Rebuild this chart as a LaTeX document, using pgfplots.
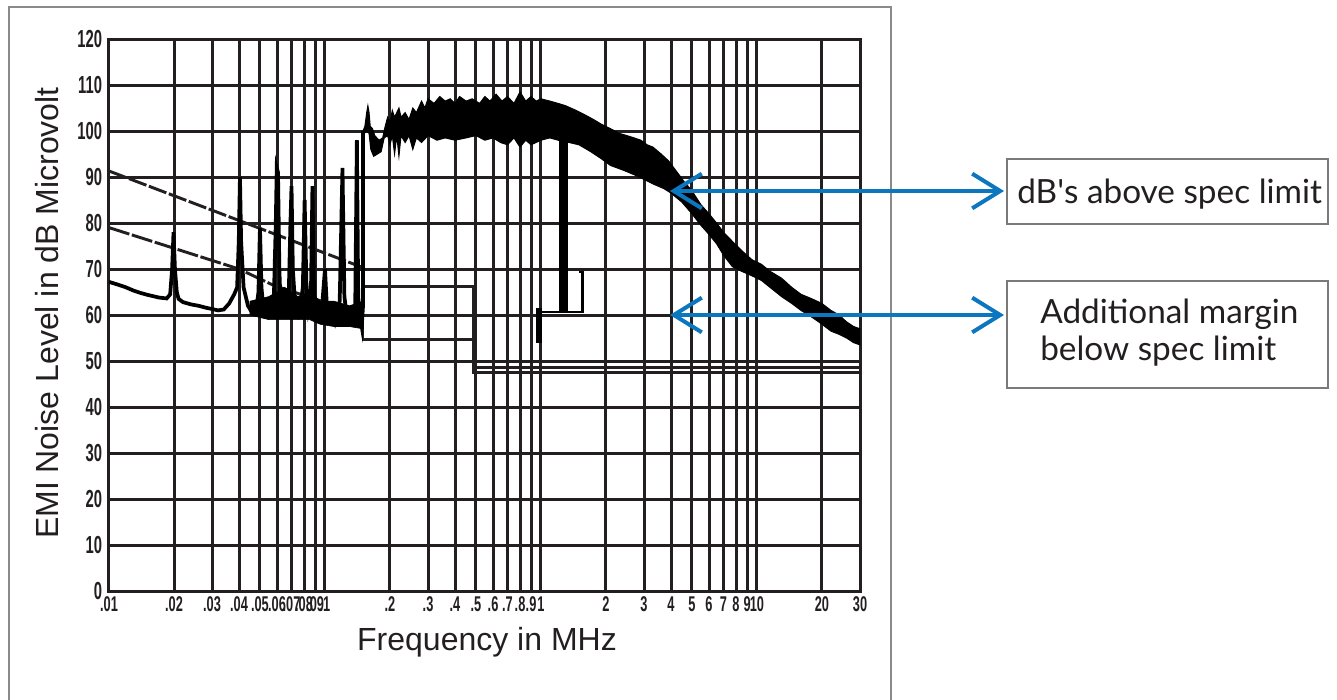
\documentclass[border=0pt]{standalone}
\usepackage{pgfplots}
\pgfplotsset{compat=1.18}
\usepackage{fontspec}
\setmainfont{Liberation Sans}
\newfontfamily\condfont[FakeStretch=0.6]{Liberation Sans}
\newfontfamily\latofont{Lato}
\usetikzlibrary{arrows.meta}
\definecolor{gridblack}{HTML}{231F20}
\definecolor{arrowblue}{HTML}{0C76BE}
\definecolor{framegray}{HTML}{8A8A8A}
\definecolor{boxgray}{HTML}{7A7A7A}
\definecolor{textdark}{HTML}{231F20}
\begin{document}
\begin{tikzpicture}
\begin{scope}[x=0.75pt,y=-0.75pt]
\path[use as bounding box] (0,0) rectangle (1337,699);
\draw[framegray, line width=0.9pt] (9,720) -- (9,7) -- (891,7) -- (891,720);
\end{scope}
\begin{axis}[
  at={(81.75pt,-443.25pt)}, anchor=south west,
  scale only axis, width=563.25pt, height=414pt,
  xmode=log, log basis x=10,
  xmin=0.01, xmax=30, ymin=0, ymax=120,
  xtick={0.01,0.02,0.03,0.04,0.05,0.06,0.07,0.08,0.09,0.1,0.2,0.3,0.4,0.5,0.6,0.7,0.8,0.9,1,2,3,4,5,6,7,8,9,10,20,30},
  xticklabels={.01,.02,.03,.04,.05,.06,.07,.08,.09,.1,.2,.3,.4,.5,.6,.7,.8,.9,1,2,3,4,5,6,7,8,9,10,20,30},
  ytick={0,10,20,30,40,50,60,70,80,90,100,110,120},
  yticklabels={0,10,20,30,40,50,60,70,80,90,100,110,120},
  minor xtick={},
  grid=major,
  major grid style={gridblack, line width=2.25pt},
  axis line style={gridblack, line width=2.25pt},
  major tick length=0pt, minor tick length=0pt,
  xticklabel style={font=\condfont\bfseries\fontsize{16}{18}\selectfont, text=gridblack, inner sep=1pt, yshift=-3pt},
  yticklabel style={font=\condfont\bfseries\fontsize{18.5}{20}\selectfont, text=gridblack, inner sep=1pt, xshift=-4pt},
]
% upper limit line
\addplot[gridblack, line width=2.2pt, mark=none, dash pattern=on 14pt off 2pt] coordinates {
(0.01,91.3)(0.15,70.3)};
\addplot[gridblack, line width=2.2pt, mark=none] coordinates {
(0.15,70.3)(0.15,66.1)(0.485,66.1)(0.485,48.5)(30,48.5)};
% lower limit line
\addplot[gridblack, line width=2.2pt, mark=none, dash pattern=on 16pt off 2pt] coordinates {
(0.01,79)(0.04,70)(0.0575,66.5)(0.15,60)};
\addplot[gridblack, line width=2.2pt, mark=none] coordinates {
(0.15,60)(0.15,54.6)(0.485,54.6)(0.485,47.5)(30,47.5)};
% low-frequency measurement trace
\addplot[black, line width=2.8pt, mark=none] coordinates {
(0.010,67.2)(0.011,66.6)(0.012,66)(0.013,65.3)(0.014,64.8)(0.015,64.4)(0.016,64.1)(0.017,63.8)(0.0185,63.6)(0.0192,64.5)(0.0196,70)(0.0199,78)(0.0202,70)(0.0206,65)(0.021,63.5)(0.022,62.8)(0.024,62.3)(0.026,62)(0.028,61.6)(0.030,61.3)(0.032,61)(0.034,61.2)(0.036,62.5)(0.038,64.5)(0.0392,66)(0.0399,76)(0.0404,90)(0.0409,76)(0.042,66)(0.044,62)(0.046,60.5)(0.048,61)(0.0492,65)(0.0500,79)(0.0508,66)(0.052,61)(0.054,60)(0.056,61.5)(0.058,64)(0.0592,80)(0.0598,92)(0.0606,91)(0.0615,70)(0.062,65)(0.064,62)(0.066,61)(0.068,65)(0.0692,80)(0.0700,88)(0.0710,70)(0.073,61)(0.075,60)(0.077,62)(0.079,66)(0.0805,85)(0.082,67)(0.084,61)(0.086,63)(0.0875,88)(0.089,65)(0.091,60)(0.094,59)(0.097,62)(0.100,70)(0.102,62)(0.105,59)(0.108,60)(0.111,58.5)(0.114,61)(0.117,63)(0.1205,92)(0.123,64)(0.126,60)(0.130,58.5)(0.134,60)(0.138,61)(0.1405,98)(0.1425,64)(0.145,60)(0.148,57.5)(0.150,62)(0.150,100)};
% noisy floor between 0.045 and 0.15 MHz
\addplot[black, fill=black, line width=0.5pt, mark=none] coordinates {
(0.045,63)(0.055,64)(0.065,66)(0.075,64)(0.085,65)(0.095,63)(0.11,63)(0.13,62)(0.15,63)
(0.15,57)(0.13,57.5)(0.11,57.5)(0.095,58)(0.085,59)(0.075,59)(0.065,59)(0.055,59)(0.045,60)(0.045,63)};
% broadband noise band
\addplot[black, fill=black, line width=0.75pt, mark=none] coordinates {
(0.150,100)(0.153,101)(0.156,104)(0.158,105.5)(0.160,104)(0.162,101)(0.166,100.5)(0.170,99)(0.178,98)(0.185,98.5)(0.190,101)(0.195,103)(0.200,102)(0.205,104.5)(0.210,103)(0.220,105)(0.225,103)(0.235,104)(0.245,102.5)(0.255,105)(0.265,104)(0.280,106.5)(0.290,105)(0.300,107)(0.320,106)(0.340,107.5)(0.360,106.5)(0.380,107)(0.400,106)(0.420,107.5)(0.450,106.5)(0.480,107)(0.520,106)(0.550,107.5)(0.580,106.5)(0.620,108)(0.660,106.5)(0.700,107.5)(0.750,106)(0.800,108.5)(0.850,106.5)(0.900,107.5)(0.950,106.5)(1.000,107)(1.100,106.5)(1.200,106)(1.300,105.5)(1.450,104.5)(1.600,103.5)(1.750,102.5)(1.900,101.5)(2.100,100.5)(2.300,99.5)(2.500,99)(2.700,98.5)(2.900,98)(3.100,97)(3.300,96.5)(3.600,95)(3.900,93.5)(4.200,91.5)(4.600,89)(5.000,87)(5.500,84)(6.000,82)(6.500,80)(7.000,78)(7.700,76)(8.500,74)(9.500,72)(10.50,71)(11.50,69.5)(13.00,68)(14.50,66)(16.00,64.5)(18.00,63.5)(20.00,62.5)(22.00,61)(24.00,60)(26.00,58.5)(28.00,57.5)(30.00,57)
(30,53.5)(28,54)(26,55)(24,55.8)(22,56.5)(20,58)(18,59.5)(16,61)(14.5,62.5)(13,64)(11.5,66)(10.5,67.5)(9.5,68.5)(8.5,69.5)(7.7,70.5)(7.0,73)(6.5,75.5)(6.0,77.5)(5.5,79.5)(5.0,82)(4.5,84.5)(4.0,86.5)(3.7,87.5)(3.3,88.5)(3.0,89.5)(2.7,90.5)(2.4,91.5)(2.1,92.5)(1.9,94)(1.7,95.5)(1.5,97)(1.35,97.5)(1.2,98)(1.1,98.5)(1.0,98)(0.9,97)(0.85,98)(0.8,96.5)(0.75,98.5)(0.7,97)(0.65,97.5)(0.6,98.5)(0.55,98)(0.5,99)(0.45,98.5)(0.4,98)(0.36,98.5)(0.33,98)(0.30,99)(0.28,97.5)(0.265,98.5)(0.255,96)(0.245,99)(0.235,97.5)(0.225,99)(0.22,94.5)(0.215,99)(0.21,95)(0.205,99)(0.20,97)(0.195,99)(0.188,98.5)(0.182,95.5)(0.175,95)(0.168,94.5)(0.163,96)(0.160,99.5)(0.155,100)(0.150,99)(0.150,100)};
% thick bar near 1.27 MHz
\addplot[black, line width=7pt, mark=none] coordinates {(1.27,60.5)(1.27,98)};
\addplot[black, line width=1.8pt, mark=none] coordinates {(1.0,60.6)(1.56,60.6)(1.56,69.3)(1.5,69.3)};
\addplot[black, line width=4.5pt, mark=none] coordinates {(0.98,54)(0.98,61.5)};
\end{axis}
\begin{scope}[x=0.75pt,y=-0.75pt]
\node[rotate=90, anchor=center, inner sep=0pt, font=\fontsize{24}{28}\selectfont, text=textdark] at (47,313) {EMI Noise Level in dB Microvolt};
\node[anchor=center, inner sep=0pt, font=\fontsize{24}{28}\selectfont, text=textdark] at (487,642) {Frequency in MHz};
\draw[boxgray, line width=0.9pt] (1007,159) rectangle (1328,224);
\draw[boxgray, line width=0.9pt] (1007,281) rectangle (1328,388);
\node[anchor=base west, inner sep=0pt, font=\latofont\fontsize{25}{29}\selectfont, text=textdark] at (1017,203) {dB\textquotesingle s above spec limit};
\node[anchor=base west, inner sep=0pt, font=\latofont\fontsize{25}{29}\selectfont, text=textdark] at (1040,323) {Additional margin};
\node[anchor=base west, inner sep=0pt, font=\latofont\fontsize{25}{29}\selectfont, text=textdark] at (1040,360) {below spec limit};
\draw[arrowblue, line width=3pt, {Straight Barb[length=21pt,width=26pt]}-{Straight Barb[length=21pt,width=26pt]}] (670,191) -- (1004,191);
\draw[arrowblue, line width=3pt, {Straight Barb[length=21pt,width=26pt]}-{Straight Barb[length=21pt,width=26pt]}] (670,315) -- (1004,315);
\end{scope}
\end{tikzpicture}
\end{document}
